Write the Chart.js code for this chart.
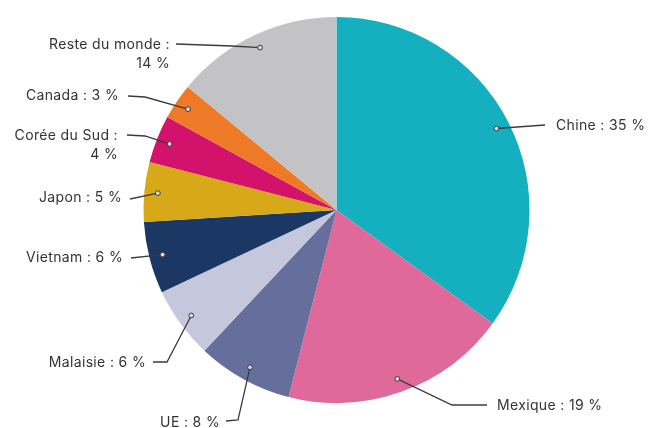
<!DOCTYPE html>
<html lang="fr">
<head>
  <meta charset="UTF-8">
  <title>Répartition par pays</title>
  <script src="https://cdn.jsdelivr.net/npm/chart.js"></script>
  <style>
    body { margin: 0; background: #fff; }
    canvas { display: block; }
  </style>
</head>
<body>
  <canvas id="pieChart" width="649" height="428"></canvas>

  <script>
    const categories = ['Chine', 'Mexique', 'UE', 'Malaisie', 'Vietnam', 'Japon', 'Corée du Sud', 'Canada', 'Reste du monde'];
    const shares = [35, 19, 8, 6, 6, 5, 4, 3, 14];
    const sliceColors = ['#15b0bf', '#e0699b', '#666e9c', '#c5c7dc', '#1b3865', '#d7a918', '#d3136b', '#ee7a28', '#c3c3c6'];

    // where each callout goes: optional elbow, line end, text anchor
    const callouts = [
      { end: [545, 125], text: [556, 126], align: 'left' },
      { elbow: [452, 405], end: [487, 405], text: [497, 406], align: 'left' },
      { elbow: [238, 420], end: [226, 421], text: [220, 423], align: 'right' },
      { elbow: [167, 362], end: [153, 362], text: [146, 363], align: 'right' },
      { end: [131, 258], text: [123, 258], align: 'right' },
      { end: [130, 199], text: [122, 198], align: 'right' },
      { elbow: [145, 136], end: [127, 135], text: [118, 136], align: 'right', wrap: true },
      { elbow: [145, 97], end: [128, 96], text: [119, 96], align: 'right' },
      { elbow: [232, 46], end: [176, 44], text: [170, 45], align: 'right', wrap: true }
    ];

    const calloutPlugin = {
      id: 'callouts',
      afterDraw(chart) {
        const ctx = chart.ctx;
        const arcs = chart.getDatasetMeta(0).data;
        ctx.save();
        arcs.forEach((arc, i) => {
          const { x, y, startAngle, endAngle, outerRadius } = arc.getProps(['x', 'y', 'startAngle', 'endAngle', 'outerRadius'], true);
          const mid = (startAngle + endAngle) / 2;
          const r = outerRadius * 0.93;
          const dx = x + Math.cos(mid) * r;
          const dy = y + Math.sin(mid) * r;
          const c = callouts[i];

          ctx.strokeStyle = '#3c3c3c';
          ctx.lineWidth = 1.3;
          ctx.beginPath();
          ctx.moveTo(dx, dy);
          if (c.elbow) ctx.lineTo(c.elbow[0], c.elbow[1]);
          ctx.lineTo(c.end[0], c.end[1]);
          ctx.stroke();

          ctx.beginPath();
          ctx.arc(dx, dy, 2.4, 0, Math.PI * 2);
          ctx.fillStyle = '#d8d8e0';
          ctx.fill();
          ctx.lineWidth = 1;
          ctx.stroke();

          ctx.fillStyle = '#333';
          ctx.font = '14px Inter, sans-serif';
          ctx.letterSpacing = '0.35px';
          ctx.textAlign = c.align;
          ctx.textBaseline = 'middle';
          const lines = c.wrap
            ? [categories[i] + ' :', shares[i] + ' %']
            : [categories[i] + ' : ' + shares[i] + ' %'];
          lines.forEach((t, k) => ctx.fillText(t, c.text[0], c.text[1] + k * 18.5));
        });
        ctx.restore();
      }
    };

    new Chart(document.getElementById('pieChart'), {
      type: 'pie',
      data: {
        labels: categories,
        datasets: [{
          data: shares,
          backgroundColor: sliceColors,
          borderWidth: 0
        }]
      },
      options: {
        responsive: false,
        animation: false,
        layout: { padding: { left: 143, right: 119, top: 17, bottom: 25 } },
        plugins: {
          legend: { display: false },
          tooltip: { enabled: false }
        }
      },
      plugins: [calloutPlugin]
    });
  </script>
</body>
</html>
